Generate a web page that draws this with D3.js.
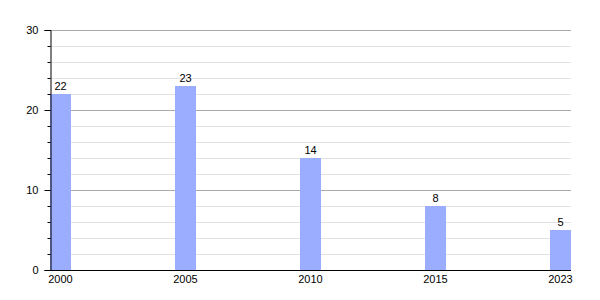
<!DOCTYPE html>
<html>
<head>
<meta charset="utf-8">
<script src="https://cdn.jsdelivr.net/npm/d3@7"></script>
<style>
  body { margin: 0; background: #fff; }
  text { font-family: "Liberation Sans", Arial, sans-serif; font-size: 11px; fill: #000; }
</style>
</head>
<body>
<div id="chart"></div>
<script>
// dữ liệu
var years = ["2000", "2005", "2010", "2015", "2023"];
var values = [22, 23, 14, 8, 5];
var majorTicks = [0, 10, 20, 30];
var minorTicks = [2, 4, 6, 8, 12, 14, 16, 18, 22, 24, 26, 28];

var width = 600, height = 300;
var plotLeft = 50, plotRight = 571, plotTop = 30, plotBottom = 270;
var barW = 21;

var svg = d3.select("#chart").append("svg")
    .attr("width", width)
    .attr("height", height);

var y = d3.scaleLinear().domain([0, 30]).range([plotBottom, plotTop]);
var x = d3.scalePoint().domain(years).range([plotLeft, plotRight - barW]);

// lưới phụ
svg.selectAll(".minor")
    .data(minorTicks)
    .enter().append("line")
    .attr("x1", plotLeft).attr("x2", plotRight)
    .attr("y1", function(d) { return Math.round(y(d)) + 0.5; })
    .attr("y2", function(d) { return Math.round(y(d)) + 0.5; })
    .attr("stroke", "#e2e2e2");

// lưới chính
svg.selectAll(".major")
    .data(majorTicks.filter(function(d) { return d > 0; }))
    .enter().append("line")
    .attr("x1", plotLeft).attr("x2", plotRight)
    .attr("y1", function(d) { return Math.round(y(d)) + 0.5; })
    .attr("y2", function(d) { return Math.round(y(d)) + 0.5; })
    .attr("stroke", "#aaaaaa");

// cột
svg.selectAll(".bar")
    .data(values)
    .enter().append("rect")
    .attr("x", function(d, i) { return x(years[i]); })
    .attr("y", function(d) { return y(d); })
    .attr("width", barW)
    .attr("height", function(d) { return plotBottom - y(d); })
    .attr("fill", "#9aadff");

// nhãn giá trị
svg.selectAll(".val")
    .data(values)
    .enter().append("text")
    .attr("x", function(d, i) { return x(years[i]) + barW / 2; })
    .attr("y", function(d) { return y(d) - 4; })
    .attr("text-anchor", "middle")
    .text(function(d) { return d; });

// trục y
var yAxis = d3.axisLeft(y).tickValues(majorTicks).tickSize(6).tickPadding(6);
var gy = svg.append("g").attr("transform", "translate(" + (plotLeft + 0.5) + ",0)").call(yAxis);
gy.select(".domain").attr("stroke", "#000");
gy.selectAll("text").style("font-size", "11px").style("font-family", null);

svg.append("g").attr("transform", "translate(" + (plotLeft + 0.5) + ",0)")
    .call(d3.axisLeft(y).tickValues(minorTicks).tickSize(3).tickFormat(""))
    .select(".domain").remove();

// trục x
svg.append("line")
    .attr("x1", plotLeft).attr("x2", plotRight)
    .attr("y1", plotBottom + 0.5).attr("y2", plotBottom + 0.5)
    .attr("stroke", "#000");

svg.selectAll(".xl")
    .data(years)
    .enter().append("text")
    .attr("x", function(d) { return x(d) + barW / 2; })
    .attr("y", plotBottom + 13)
    .attr("text-anchor", "middle")
    .text(function(d) { return d; });
</script>
</body>
</html>
